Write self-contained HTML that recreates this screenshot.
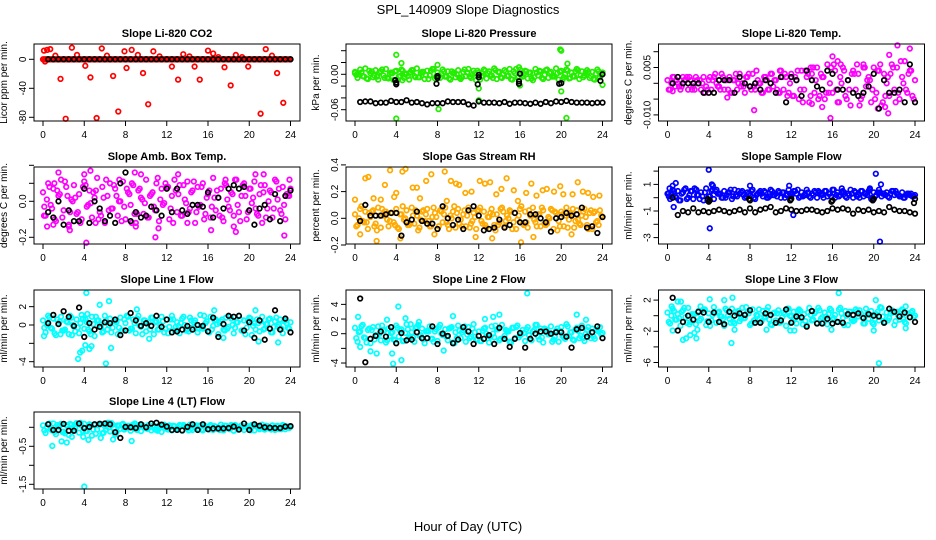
<!DOCTYPE html>
<html><head><meta charset="utf-8"><style>
html,body{margin:0;padding:0;background:#fff;}
svg{display:block;font-family:"Liberation Sans",Arial,sans-serif;}
</style></head><body>
<svg id="chart" width="936" height="540" viewBox="0 0 936 540">
<text x="468" y="14" text-anchor="middle" font-size="13">SPL_140909  Slope Diagnostics</text>
<text x="468" y="531" text-anchor="middle" font-size="13">Hour of Day (UTC)</text>
</svg>
<script>
const H1=[0,0.25,0.5,0.75,1,1.25,1.5,1.75,2,2.25,2.5,2.75,3,3.25,3.5,3.75,4,4.25,4.5,4.75,5,5.25,5.5,5.75,6,6.25,6.5,6.75,7,7.25,7.5,7.75,8,8.25,8.5,8.75,9,9.25,9.5,9.75,10,10.25,10.5,10.75,11,11.25,11.5,11.75,12,12.25,12.5,12.75,13,13.25,13.5,13.75,14,14.25,14.5,14.75,15,15.25,15.5,15.75,16,16.25,16.5,16.75,17,17.25,17.5,17.75,18,18.25,18.5,18.75,19,19.25,19.5,19.75,20,20.25,20.5,20.75,21,21.25,21.5,21.75,22,22.25,22.5,22.75,23,23.25,23.5,23.75,24];
const H2=[0.125,0.625,1.125,1.625,2.125,2.625,3.125,3.625,4.125,4.625,5.125,5.625,6.125,6.625,7.125,7.625,8.125,8.625,9.125,9.625,10.125,10.625,11.125,11.625,12.125,12.625,13.125,13.625,14.125,14.625,15.125,15.625,16.125,16.625,17.125,17.625,18.125,18.625,19.125,19.625,20.125,20.625,21.125,21.625,22.125,22.625,23.125,23.625];
const H3=[0.375,0.875,1.375,1.875,2.375,2.875,3.375,3.875,4.375,4.875,5.375,5.875,6.375,6.875,7.375,7.875,8.375,8.875,9.375,9.875,10.375,10.875,11.375,11.875,12.375,12.875,13.375,13.875,14.375,14.875,15.375,15.875,16.375,16.875,17.375,17.875,18.375,18.875,19.375,19.875,20.375,20.875,21.375,21.875,22.375,22.875,23.375,23.875];
const HB=[0.5,1,1.5,2,2.5,3,3.5,4,4.5,5,5.5,6,6.5,7,7.5,8,8.5,9,9.5,10,10.5,11,11.5,12,12.5,13,13.5,14,14.5,15,15.5,16,16.5,17,17.5,18,18.5,19,19.5,20,20.5,21,21.5,22,22.5,23,23.5,24];
const XTICKS=[0,4,8,12,16,20,24];

// Panel 1: CO2
const co2BandA=[0,0,0,0,0,0,0,0,0,0,0,0,0,0,0,0,0,0,0,0,0,0,0,0,0,0,0,0,0,0,0,0,0,0,0,0,0,0,0,0,0,0,0,0,0,0,0,0,0,0,0,0,0,0,0,0,0,0,0,0,0,0,0,0,0,0,0,0,0,0,0,0,0,0,0,0,0,0,0,0,0,0,0,0,0,0,0,0,0,0,0,0,0,0,0,0,0];
const co2BandB=[0,0,0,0,0,0,0,0,0,0,0,0,0,0,0,0,0,0,0,0,0,0,0,0,0,0,0,0,0,0,0,0,0,0,0,0,0,0,0,0,0,0,0,0,0,0,0,0];
const co2BandC=[0,0,0,0,0,0,0,0,0,0,0,0,0,0,0,0,0,0,0,0,0,0,0,0,0,0,0,0,0,0,0,0,0,0,0,0,0,0,0,0,0,0,0,0,0,0,0,0];
const co2OutH=[0.1,0.2,0.4,0.7,1.2,1.7,2.2,2.8,3.3,4.1,4.6,5.2,5.7,6.2,6.8,7.3,7.9,8.1,8.6,9.2,9.7,10.2,10.7,11.3,12.5,13.1,13.6,14.2,14.7,15.2,16,16.5,17,17.6,18.2,18.7,19.3,19.9,21.1,21.6,22.2,22.7,23.3];
const co2OutV=[12,-3,13,14,5,-27,-82,16,6,-9,-25,-81,15,5,-23,-72,11,-12,13,6,-19,-62,11,4,-10,-28,7,4,-10,-28,12,8,3,-11,-36,6,3,-10,-75,14,5,-19,-60];
const co2Blk=[0,0,0,0,0,0,0,0,0,0,0,0,0,0,0,0,0,0,0,0,0,0,0,0,0,0,0,0,0,0,0,0,0,0,0,0,0,0,0,0,0,0,0,0,0,0,0,0];

// Panel 2: Pressure
const prBandA=[0.004,-0.006,0.008,-0.003,0.010,-0.008,0.002,-0.005,0.007,-0.009,0.005,-0.002,0.009,-0.007,0.003,-0.010,0.006,-0.004,0.008,-0.006,0.001,-0.009,0.007,-0.003,0.010,-0.005,0.004,-0.008,0.006,-0.002,0.009,-0.007,0.003,-0.006,0.008,-0.004,0.005,-0.009,0.002,-0.005,0.007,-0.008,0.004,-0.003,0.009,-0.006,0.006,-0.010,0.003,-0.004,0.008,-0.007,0.005,-0.002,0.010,-0.008,0.004,-0.006,0.007,-0.003,0.009,-0.009,0.002,-0.005,0.008,-0.004,0.006,-0.007,0.003,-0.010,0.009,-0.002,0.005,-0.008,0.007,-0.006,0.004,-0.003,0.010,-0.009,0.006,-0.005,0.008,-0.007,0.003,-0.004,0.009,-0.008,0.005,-0.002,0.007,-0.006,0.004,-0.009,0.008,-0.005,0.003];
const prBandB=[-0.001,0.003,-0.007,0.005,-0.004,0.008,-0.006,0.002,-0.009,0.006,-0.003,0.007,-0.005,0.004,-0.008,0.009,-0.002,0.005,-0.007,0.003,-0.006,0.008,-0.004,0.002,-0.009,0.006,-0.003,0.007,-0.005,0.004,-0.008,0.009,-0.002,0.005,-0.007,0.003,-0.006,0.008,-0.004,0.002,-0.009,0.006,-0.003,0.007,-0.005,0.004,-0.008,0.005];
const prBandC=[0.000,-0.004,0.006,-0.002,0.003,-0.006,0.001,0.005,-0.003,0.000,0.004,-0.005,0.002,-0.001,0.006,-0.004,0.001,-0.003,0.005,0.000,-0.005,0.003,-0.001,0.006,-0.003,0.002,-0.006,0.004,0.000,-0.002,0.005,-0.004,0.001,0.003,-0.005,0.006,-0.001,0.002,-0.004,0.004,0.000,-0.006,0.005,-0.002,0.003,-0.003,0.001,-0.001];
const prOutH=[4,4.5,4.6,8,8.1,12,12,15.9,16,19.9,20,20.6,20,20.5,4,24,0];
const prOutV=[0.033,0.019,-0.010,0.016,-0.059,-0.024,-0.044,0.012,-0.019,0.042,0.040,0.018,-0.029,-0.074,-0.075,-0.018,0.002];
const prBlk=[-0.047,-0.046,-0.046,-0.049,-0.048,-0.048,-0.045,-0.047,-0.047,-0.044,-0.048,-0.047,-0.049,-0.051,-0.049,-0.049,-0.049,-0.046,-0.047,-0.047,-0.047,-0.051,-0.053,-0.046,-0.048,-0.048,-0.048,-0.049,-0.047,-0.050,-0.048,-0.048,-0.049,-0.050,-0.048,-0.050,-0.047,-0.049,-0.046,-0.047,-0.045,-0.047,-0.048,-0.048,-0.048,-0.049,-0.048,-0.048];
const prBlkXH=[3.9,4,4,8,8,7.9,12,12,11.9,16,15.9,15.9,20,19.8,24,23.8];
const prBlkXV=[-0.010,-0.014,-0.017,-0.003,-0.006,-0.016,-0.001,-0.005,-0.017,0.001,-0.012,-0.016,-0.015,-0.016,0.000,-0.011];

// Panel 3: Li-820 Temp
const tpBandA=[0.001,-0.002,0.002,-0.001,0.000,-0.002,0.002,0.001,-0.002,0.001,-0.001,0.002,0.000,-0.002,0.002,-0.001,0.001,-0.002,0.002,0.000,-0.001,0.003,-0.002,0.001,0.002,-0.003,0.001,-0.002,0.003,0.000,-0.003,0.002,-0.001,0.003,-0.002,0.001,0.000,-0.003,0.002,-0.002,0.003,-0.001,0.001,-0.003,0.004,-0.002,0.002,-0.003,0.003,-0.004,0.001,-0.005,0.004,-0.002,0.002,-0.006,0.003,-0.003,0.005,-0.004,0.002,-0.005,0.006,0.000,-0.003,0.004,-0.006,0.002,0.005,-0.004,0.001,-0.007,0.004,-0.002,0.003,-0.005,0.006,-0.001,0.002,-0.006,0.005,-0.003,0.004,-0.007,0.003,0.000,-0.004,0.006,-0.002,0.005,-0.005,0.002,0.007,-0.003,0.004,-0.004,0.001];
const tpBandB=[-0.002,0.002,-0.001,0.001,0.002,-0.002,0.001,-0.003,0.002,0.003,-0.002,0.001,-0.003,0.003,-0.001,0.002,-0.002,0.004,-0.003,0.001,0.003,-0.002,0.002,-0.004,-0.004,0.004,-0.006,0.003,0.005,-0.005,0.002,-0.003,0.006,-0.006,0.004,-0.002,0.003,-0.007,0.005,0.001,-0.005,0.006,-0.004,0.003,-0.006,0.007,-0.002,0.004];
const tpBandC=[0.000,0.001,-0.001,0.002,-0.002,0.001,0.000,-0.002,0.001,-0.001,0.002,-0.002,0.001,0.000,-0.001,0.003,-0.001,0.000,0.002,-0.002,0.001,-0.003,0.003,0.000,0.002,-0.002,0.004,-0.004,0.001,0.003,-0.003,0.005,-0.002,0.000,-0.005,0.003,0.006,-0.004,0.001,-0.002,0.004,-0.006,0.002,0.005,-0.003,0.000,0.003,-0.005];
const tpOutH=[8.4,15.8,16,16.5,16.8,22.3,23.5,21.5,20.4,21.4,10.9,13.9,19,21.1,14,15,5.8,0.5];
const tpOutV=[-0.0085,-0.011,0.0085,0.007,0.006,0.012,0.011,0.009,-0.008,-0.0095,0.004,0.005,0.005,-0.0075,-0.0065,-0.0075,-0.0045,-0.0025];
const tpBlk=[0.000,0.002,0.000,0.000,0.000,0.000,-0.003,-0.003,-0.003,0.001,0.001,0.001,-0.003,0.002,0.000,-0.001,0.000,-0.002,0.001,0.000,-0.003,0.002,-0.006,0.002,0.001,-0.004,0.004,0.001,-0.001,-0.002,0.004,0.003,-0.002,-0.002,0.001,-0.003,-0.004,-0.003,-0.001,0.003,-0.008,0.001,-0.003,-0.003,-0.002,-0.006,0.006,-0.006];

// Panel 4: Amb Box Temp
const abBandA=[0.05,-0.08,0.10,-0.02,0.07,-0.11,0.03,0.12,-0.05,0.08,-0.13,0.01,0.09,-0.07,0.04,-0.10,0.11,-0.03,0.06,-0.09,0.02,0.13,-0.06,0.08,-0.12,0.03,0.10,-0.04,0.07,-0.08,0.00,0.11,-0.10,0.05,-0.02,0.09,-0.12,0.06,0.02,-0.07,0.12,-0.09,0.04,-0.03,0.10,-0.11,0.07,-0.01,0.08,-0.10,0.03,0.12,-0.06,0.09,-0.08,0.01,0.11,-0.04,0.06,-0.12,0.08,-0.02,0.10,-0.07,0.04,-0.09,0.13,-0.05,0.02,0.07,-0.11,0.09,-0.03,0.05,-0.08,0.12,-0.06,0.03,0.10,-0.10,0.07,-0.01,0.11,-0.07,0.04,-0.12,0.09,-0.04,0.06,-0.09,0.12,0.01,-0.05,0.08,-0.10,0.03,0.07];
const abBandB=[-0.03,0.08,-0.10,0.04,0.11,-0.06,0.02,-0.12,0.09,-0.01,0.06,-0.08,0.12,-0.04,0.03,-0.11,0.07,0.10,-0.07,0.01,-0.09,0.05,0.13,-0.02,0.08,-0.12,0.04,0.09,-0.06,0.11,-0.03,-0.10,0.06,0.02,-0.08,0.10,-0.05,0.12,-0.11,0.03,0.07,-0.04,0.09,-0.09,0.05,0.11,-0.07,0.04];
const abBandC=[0.01,-0.04,0.06,-0.09,0.03,0.00,-0.06,0.08,-0.02,0.05,-0.10,0.02,-0.05,0.09,0.00,-0.03,0.04,-0.07,0.07,-0.01,0.03,-0.05,0.01,0.10,-0.04,0.06,-0.08,-0.01,0.05,-0.06,0.08,0.02,-0.03,0.06,-0.09,0.01,0.04,-0.02,0.09,-0.06,0.02,-0.08,0.05,0.00,-0.04,0.07,-0.02,0.03];
const abOutH=[0.1,1,1.1,1.5,2.6,2.5,4.2,4.6,5.1,7.4,8.6,8.9,9.0,9.5,10.9,11.2,13.1,14.0,16.3,17.7,18.5,18.7,20.6,21.4,23.4,23.9,4.0,0.4];
const abOutV=[-0.08,-0.13,0.10,0.16,-0.16,-0.14,-0.23,0.17,-0.12,0.12,-0.12,0.16,-0.14,0.15,-0.20,-0.15,0.15,-0.12,-0.16,0.12,-0.14,-0.17,0.15,0.15,-0.19,0.12,0.15,-0.14];
const abBlk=[-0.06,-0.09,0.00,-0.13,-0.05,-0.11,-0.11,0.07,-0.12,0.00,-0.04,-0.11,-0.08,-0.12,0.10,0.16,-0.11,-0.06,-0.09,-0.08,-0.03,-0.05,-0.08,0.07,-0.06,0.07,-0.05,-0.07,-0.02,-0.02,-0.03,0.05,-0.09,0.02,-0.04,0.07,0.09,0.07,0.08,-0.05,-0.13,-0.04,-0.02,-0.10,0.04,-0.11,0.03,0.06];

// Panel 5: Gas Stream RH
const rhBandA=[0.03,-0.05,0.07,-0.02,0.05,-0.08,0.01,0.06,-0.04,0.08,-0.07,0.02,0.05,-0.06,0.04,-0.03,0.07,-0.08,0.03,-0.01,0.06,-0.05,0.08,-0.04,0.02,-0.07,0.05,-0.02,0.07,-0.06,0.01,0.04,-0.08,0.06,-0.03,0.08,-0.05,0.02,0.05,-0.07,0.07,-0.01,0.03,-0.06,0.08,-0.04,0.04,-0.08,0.06,-0.02,0.05,-0.07,0.01,0.07,-0.05,0.03,-0.03,0.08,-0.06,0.02,0.06,-0.08,0.04,-0.01,0.07,-0.04,0.05,-0.07,0.02,0.08,-0.03,0.03,-0.06,0.06,-0.05,0.01,0.07,-0.08,0.04,-0.02,0.05,-0.06,0.08,-0.01,0.03,-0.07,0.06,-0.04,0.02,0.07,-0.05,0.04,-0.08,0.05,-0.02,0.06,0.01];
const rhBandB=[-0.06,0.09,-0.03,0.05,-0.09,0.07,-0.01,0.04,-0.07,0.09,-0.05,0.02,-0.09,0.06,-0.02,0.08,-0.06,0.03,-0.08,0.09,-0.04,0.06,-0.07,0.01,0.08,-0.05,0.04,-0.09,0.07,-0.02,0.05,-0.08,0.09,-0.03,0.02,-0.06,0.08,-0.04,0.06,-0.09,0.03,-0.07,0.07,-0.01,0.05,-0.08,0.04,-0.05];
const rhBandC=[0.00,-0.03,0.04,-0.06,0.02,0.05,-0.02,-0.05,0.03,0.00,-0.04,0.06,-0.01,0.03,-0.06,0.01,0.05,-0.03,0.00,0.04,-0.06,0.02,-0.02,0.06,-0.04,0.01,0.03,-0.05,0.05,0.00,-0.03,0.02,-0.05,0.06,-0.01,0.03,-0.04,0.00,0.05,-0.06,0.02,0.04,-0.02,-0.05,0.01,0.06,-0.03,0.02];
const rhOutH=[0,0.5,1,1.3,1.8,2.1,2.5,2.9,3.4,3.8,4.0,4.6,4.9,4.4,5.6,6.0,6.3,6.9,7.4,7.7,8.7,8.9,9.3,9.8,10.1,10.7,11.3,11.7,12.1,12.6,13.1,13.3,13.7,14.2,14.7,15.4,15.8,16.1,16.6,17.1,17.3,17.6,18.2,18.6,19.3,19.9,20.2,21.1,21.6,22.1,22.6,23.1,23.7,21.0];
const rhOutV=[0.14,-0.12,0.30,0.31,0.15,-0.17,0.14,0.25,0.36,0.16,0.19,0.35,0.37,-0.15,0.23,0.23,0.15,0.28,0.33,-0.12,0.35,0.13,0.28,0.26,0.25,0.19,0.20,-0.14,0.28,0.26,0.27,-0.15,0.18,0.22,0.30,0.21,0.13,-0.18,0.19,0.26,-0.14,0.17,0.21,0.22,0.20,0.24,0.18,0.18,0.27,0.20,0.19,0.16,0.17,-0.12];
const rhBlk=[-0.02,0.10,0.02,0.02,0.02,0.03,0.04,0.04,-0.13,-0.03,-0.01,0.05,-0.02,-0.04,-0.04,-0.08,0.09,0.00,-0.05,-0.01,-0.08,0.06,0.09,0.02,-0.09,-0.08,-0.07,-0.01,-0.07,-0.05,0.04,-0.03,-0.03,0.03,0.03,0.00,-0.03,-0.10,0.00,0.01,0.04,0.02,0.03,0.08,-0.07,-0.06,-0.11,0.01];

// Panel 6: Sample Flow
const sfBandA=[0.3,-0.1,0.6,0.1,0.5,-0.2,0.4,0.7,0.0,0.5,-0.1,0.6,0.2,0.4,-0.2,0.7,0.1,0.5,-0.1,0.6,0.3,0.0,0.5,0.2,0.4,-0.1,0.6,0.1,0.3,0.5,0.0,0.4,0.2,0.6,-0.1,0.3,0.5,0.1,0.4,0.0,0.6,0.2,0.3,0.5,0.0,0.4,0.2,0.6,0.1,0.5,0.3,0.0,0.4,0.2,0.6,0.1,0.3,0.5,0.0,0.4,0.2,0.5,0.1,0.3,0.6,0.0,0.4,0.2,0.5,0.1,0.3,0.6,0.0,0.4,0.2,0.5,0.1,0.3,0.5,-0.1,0.4,0.2,0.6,0.1,0.3,0.4,0.0,0.5,0.2,0.3,0.1,0.4,0.0,0.3,0.2,0.1,0.2];
const sfBandB=[0.1,0.5,-0.2,0.6,0.2,0.7,-0.1,0.4,0.1,0.5,0.3,0.0,0.6,0.2,0.4,0.1,0.5,0.2,0.3,0.0,0.5,0.1,0.4,0.2,0.3,0.6,0.1,0.4,0.2,0.5,0.0,0.3,0.6,0.1,0.4,0.2,0.5,0.0,0.3,0.7,0.1,0.4,0.2,0.3,0.5,0.1,0.2,0.3];
const sfBandC=[0.4,0.0,0.3,-0.1,0.5,0.2,0.1,-0.2,0.6,0.3,0.0,0.4,0.1,0.5,0.2,0.3,0.0,0.4,0.5,0.1,0.2,0.4,0.0,0.3,0.5,0.1,0.2,0.0,0.4,0.3,0.5,0.1,0.2,0.4,0.0,0.3,0.1,0.5,0.2,0.0,0.4,0.3,0.1,0.5,0.2,0.0,0.3,0.1];
const sfOutH=[0.2,0.5,0.6,0.8,2.8,4.0,4.1,4.4,4.3,8.0,11.8,12.2,16.9,19.6,20.2,20.7,20.6,0.1];
const sfOutV=[0.7,0.9,-0.7,1.1,0.6,2.1,-2.3,0.9,1.0,0.9,0.9,-1.3,0.7,0.6,1.8,1.0,-3.3,0.3];
const sfBlk=[0.0,-1.3,-1.0,-1.1,-0.8,-1.1,-1.0,-1.1,-1.0,-0.9,-1.0,-1.1,-1.0,-0.9,-1.1,-0.8,-1.1,-0.9,-0.8,-0.7,-1.1,-1.0,-0.8,-0.9,-1.0,-1.0,-0.9,-0.9,-1.0,-1.1,-1.0,-0.8,-0.9,-0.8,-0.9,-1.2,-0.9,-1.0,-0.9,-1.1,-1.0,-1.1,-0.7,-0.9,-1.0,-1.0,-1.1,-1.2];
const sfBlkXH=[3.9,4,4.1,8,7.9,12,11.9,16,15.9,20,19.9,24,23.9];
const sfBlkXV=[-0.1,-0.3,-0.2,-0.2,-0.1,-0.1,-0.2,-0.2,-0.3,-0.1,-0.2,-0.1,-0.4];

// Panel 7: Line 1 Flow
const l1BandA=[0.5,-0.8,1.0,-0.3,0.7,-1.1,0.2,0.9,-0.6,0.4,-1.0,0.8,-0.2,0.6,-0.9,1.1,-0.4,0.3,-0.7,0.9,-1.2,0.5,0.1,-0.8,1.0,-0.5,0.7,-0.3,0.4,-1.0,0.8,-0.6,0.2,0.9,-0.4,0.6,-0.9,1.0,-0.2,0.5,-0.7,0.3,0.8,-1.0,0.4,-0.5,0.9,-0.8,0.6,-0.2,1.0,-0.6,0.3,-0.9,0.7,0.0,-0.5,0.8,-0.3,0.5,-0.8,1.1,-0.4,0.2,-0.7,0.9,-0.1,0.6,-1.0,0.4,-0.5,0.8,-0.2,0.7,-0.9,0.3,1.0,-0.6,0.5,-0.3,0.8,-1.1,0.2,0.6,-0.7,0.9,-0.4,0.1,0.7,-0.8,0.4,-0.2,0.6,-0.9,0.5,-0.3,0.3];
const l1BandB=[-0.3,0.8,-0.9,0.4,-0.5,1.0,-0.7,0.2,0.6,-1.0,0.9,-0.2,0.5,-0.8,0.3,-0.6,1.0,-0.4,0.7,-1.0,0.1,0.8,-0.5,0.4,-0.9,0.6,-0.1,0.9,-0.7,0.3,-0.4,1.0,-0.8,0.5,0.2,-0.6,0.9,-0.3,0.6,-1.0,0.7,-0.5,0.4,0.1,-0.8,0.8,-0.4,0.2];
const l1BandC=[0.0,-0.4,0.6,-0.6,0.3,0.0,-0.3,0.7,-0.5,0.1,0.5,-0.7,0.0,0.4,-0.3,0.6,-0.6,0.2,-0.1,0.5,-0.5,0.3,0.0,-0.4,0.6,-0.2,0.2,-0.6,0.5,0.0,-0.3,0.4,-0.5,0.1,0.6,-0.4,0.0,0.3,-0.6,0.5,-0.1,0.2,-0.5,0.6,-0.2,0.0,0.4,-0.4];
const l1OutH=[0.1,1.7,2.8,3.4,3.6,3.8,4.1,4.2,4.3,4.5,4.7,5.5,6.1,6.4,6.6,9.1,10.3,16.6,20.6,20.9,22.8,17.5];
const l1OutV=[-1.2,-1.0,-1.1,-3.7,-3.0,-2.8,-2.2,3.5,1.2,-2.6,-2.3,2.2,-4.2,2.6,-2.5,1.7,-1.5,1.6,1.6,-1.8,-1.9,-1.4];
const l1Blk=[0.2,1.1,0.1,1.5,0.9,-0.1,1.9,-1.3,0.2,-0.5,-0.2,0.3,0.2,0.6,-1.1,-0.6,1.3,0.5,-0.1,0.2,-0.1,1.0,-0.2,0.6,-0.8,-0.7,-0.5,-0.1,-0.5,0.0,-0.1,-0.7,0.8,-1.3,0.1,1.0,0.9,1.0,-0.6,0.3,-1.4,0.5,-1.6,-0.4,1.6,-0.5,0.7,-0.8];

// Panel 8: Line 2 Flow
const l2BandA=[0.8,-1.1,0.3,1.2,-0.6,0.5,-1.3,0.9,-0.2,1.0,-0.9,0.4,-1.2,0.7,0.1,-0.8,1.1,-0.4,0.6,-1.0,1.3,-0.5,0.2,-1.1,0.9,-0.3,0.7,-1.3,0.4,1.0,-0.7,0.3,-1.0,1.2,-0.2,0.6,-0.9,0.8,-1.2,0.2,1.1,-0.6,0.5,-1.1,0.9,-0.4,1.3,-0.8,0.3,-1.0,0.7,0.0,-1.2,1.0,-0.5,0.6,-0.9,1.2,-0.3,0.4,-1.1,0.8,-0.6,1.1,-0.2,0.5,-1.0,0.9,-0.7,0.3,1.2,-0.4,0.7,-1.2,0.6,-0.1,1.0,-0.8,0.4,-1.1,0.9,-0.5,1.3,-0.3,0.2,-0.9,0.8,-0.6,1.1,-1.0,0.5,-0.2,0.7,-0.7,0.4,0.9,0.1];
const l2BandB=[-0.6,1.0,-1.2,0.5,-0.3,1.1,-0.9,0.2,0.8,-1.0,0.6,-0.5,1.2,-0.8,0.3,-1.1,0.9,-0.2,0.7,-1.3,0.4,1.0,-0.6,0.2,-1.0,0.8,-0.4,1.1,-0.7,0.5,-1.2,0.9,-0.1,0.6,-0.9,1.2,-0.5,0.3,-1.1,0.7,-0.3,1.0,-0.8,0.4,-0.6,0.9,-0.4,0.3];
const l2BandC=[0.2,-0.5,0.7,-0.8,0.0,0.5,-0.3,-0.9,0.4,0.1,-0.6,0.8,-0.2,0.3,-0.7,0.6,0.0,-0.4,0.9,-0.6,0.2,-0.1,0.7,-0.8,0.4,-0.3,0.0,0.6,-0.7,0.3,0.8,-0.5,0.1,-0.2,0.5,-0.8,0.7,0.0,-0.4,0.4,-0.7,0.2,0.6,-0.3,0.0,-0.6,0.5,-0.1];
const l2OutH=[0.3,0.5,1.5,2.1,3.1,3.6,3.7,4.2,4.5,4.9,6.2,8.6,9.5,12.6,13.4,14.0,16.7,21.5,22.4,5.4];
const l2OutV=[2.3,-1.8,-2.4,-2.7,1.9,-2.7,-4.1,3.7,-3.6,2.1,1.6,-2.3,2.4,2.0,2.3,2.6,5.5,2.6,1.9,1.3];
const l2Blk=[4.8,-3.9,-0.7,-0.3,0.3,-0.4,0.9,-1.3,0.1,-0.9,-0.8,0.2,-0.6,-0.6,1.0,-1.4,0.0,-0.3,-1.3,-0.8,0.9,0.3,-1.4,-0.3,-0.7,-0.2,-1.4,0.8,-0.7,-1.8,-0.7,0.1,-1.9,-0.7,0.0,0.3,0.3,0.0,0.2,0.2,-0.4,-1.9,0.6,0.8,-0.4,0.2,1.0,-0.6];

// Panel 9: Line 3 Flow
const l3BandA=[0.4,-1.0,0.9,-0.5,0.2,-1.3,0.7,-0.2,1.0,-0.8,0.1,-1.1,0.6,-0.4,0.8,-1.2,0.3,-0.6,1.1,-0.9,0.5,-0.1,-1.3,0.7,-0.4,0.9,-1.0,0.2,-0.7,1.0,-0.3,0.5,-1.2,0.8,-0.5,0.0,-0.9,0.6,-0.2,1.1,-1.1,0.3,-0.6,0.7,-0.8,0.4,-1.3,0.9,-0.1,0.5,-1.0,0.8,-0.4,0.2,-1.2,1.0,-0.6,0.3,-0.9,0.7,-0.2,0.4,-1.1,0.9,-0.5,0.1,-0.8,1.0,-0.3,0.6,-1.2,0.5,-0.7,0.8,-0.1,0.3,-1.0,0.9,-0.4,0.6,-1.1,0.2,-0.6,1.0,-0.9,0.4,-0.3,0.7,-1.2,0.5,-0.5,0.8,-0.8,0.3,-0.2,0.6,0.0];
const l3BandB=[-0.8,0.6,-0.3,1.0,-1.1,0.2,-0.6,0.8,-1.3,0.4,-0.1,0.9,-0.9,0.5,-0.4,1.1,-1.0,0.1,-0.7,0.7,-1.2,0.3,-0.2,0.9,-0.8,0.6,-1.1,0.4,-0.5,1.0,-0.9,0.2,-0.3,0.8,-1.2,0.5,-0.6,0.7,-1.0,0.1,-0.4,1.1,-0.8,0.3,-0.7,0.6,-1.0,0.4];
const l3BandC=[0.0,-0.5,0.5,-0.9,0.2,-0.2,0.7,-0.7,0.1,0.4,-0.4,0.0,-0.8,0.6,-0.3,0.3,-0.6,0.8,-0.1,-0.5,0.4,-0.9,0.2,0.0,-0.3,0.6,-0.7,0.1,0.5,-0.4,-0.1,0.7,-0.8,0.3,0.0,-0.5,0.6,-0.2,0.2,-0.9,0.5,-0.1,-0.6,0.4,0.0,-0.4,0.3,-0.2];
const l3OutH=[0.4,0.5,1.0,1.3,1.5,1.8,2.2,2.6,2.8,2.9,3.2,4.1,5.5,6.2,6.3,6.5,9.6,11.9,12.3,15.9,16.6,20,20.2,20.5,23.1,23.1];
const l3OutV=[1.2,-1.9,1.8,1.8,-3.1,-2.9,-2.5,-2.2,-2.9,-1.8,1.2,2.1,2.0,-3.5,2.3,-1.8,-1.8,-1.9,-1.9,-1.8,2.9,-1.9,2.0,-6.1,1.2,-1.6];
const l3Blk=[2.3,-1.9,-0.8,0.0,-0.5,0.5,0.4,-0.8,0.4,-0.8,-1.1,0.5,0.0,0.3,0.1,0.7,-0.9,-0.9,0.3,0.1,-0.9,-0.6,0.8,-0.9,-0.1,-0.2,-1.4,0.6,-1.0,-1.0,-0.4,-1.0,-0.8,-0.9,0.2,0.1,0.3,-0.3,0.2,0.0,-0.1,-0.9,0.9,0.5,-0.1,0.4,-0.2,-0.8];

// Panel 10: Line 4 (LT) Flow
const l4BandA=[0.05,-0.15,0.08,-0.05,0.10,-0.18,0.02,0.09,-0.12,0.06,-0.20,0.07,-0.08,0.11,-0.14,0.04,0.09,-0.10,0.08,-0.22,0.06,-0.06,0.10,-0.16,0.03,0.12,-0.11,0.07,-0.19,0.05,-0.04,0.09,-0.03,0.04,-0.09,0.07,-0.05,0.06,-0.10,0.03,-0.02,0.06,-0.08,0.05,-0.06,0.04,-0.12,0.07,-0.04,0.05,-0.08,0.03,-0.05,0.06,-0.09,0.02,-0.03,0.07,-0.07,0.04,-0.05,0.05,-0.08,0.03,-0.04,0.06,-0.07,0.02,-0.05,0.07,-0.08,0.04,-0.03,0.06,-0.09,0.03,-0.05,0.05,-0.07,0.04,-0.04,0.06,-0.08,0.02,-0.05,0.07,-0.06,0.03,-0.04,0.05,-0.07,0.04,-0.03,0.06,-0.05,0.02,0.01];
const l4BandB=[-0.08,0.10,-0.12,0.04,-0.16,0.09,-0.03,0.12,-0.10,0.06,-0.17,0.08,-0.06,0.11,-0.13,0.07,-0.02,0.05,-0.07,0.06,-0.04,0.03,-0.09,0.05,-0.06,0.04,-0.03,0.06,-0.08,0.02,-0.05,0.05,-0.06,0.03,-0.07,0.04,-0.05,0.06,-0.04,0.02,-0.08,0.05,-0.03,0.04,-0.06,0.03,-0.05,0.02];
const l4BandC=[0.00,-0.08,0.06,-0.12,0.03,-0.04,0.08,-0.10,0.01,-0.06,0.05,-0.14,0.00,-0.02,0.04,-0.06,0.02,-0.04,0.05,-0.02,0.00,-0.06,0.03,-0.03,0.01,-0.05,0.04,-0.01,-0.03,0.05,-0.06,0.01,0.03,-0.04,0.00,-0.02,0.04,-0.06,0.02,-0.03,0.05,-0.01,-0.04,0.02,0.00,-0.05,0.04,-0.02];
const l4OutH=[0.9,1.8,2.3,6.4,6.8,8.6,8.9,4.0,3.9,4.4,5.6,2.8];
const l4OutV=[-0.49,-0.37,-0.40,0.12,-0.32,-0.36,0.10,-1.56,-0.25,-0.33,-0.28,-0.25];
const l4Blk=[0.08,-0.07,-0.07,0.09,-0.09,-0.09,0.10,-0.02,0.01,0.08,0.09,0.10,0.08,-0.13,-0.28,0.01,0.00,-0.02,0.08,0.00,0.10,0.12,0.07,0.02,-0.07,-0.07,-0.08,0.01,0.08,-0.07,0.08,-0.05,-0.03,-0.03,-0.03,-0.02,0.02,-0.06,0.10,-0.07,0.08,0.04,0.00,-0.01,-0.02,-0.02,0.02,0.03];

const yt1=[0,-40,-80], yl1=["0","-40","-80"];
const yt2=[0.04,0.02,0,-0.02,-0.04,-0.06], yl2=["","","0.00","","","-0.06"];
const yt3=[0.01,0.005,0,-0.005,-0.01], yl3=["","0.005","","","-0.010"];
const yt4=[0.2,0.1,0,-0.1,-0.2], yl4=["","","0.0","","-0.2"];
const yt5=[0.4,0.2,0,-0.2], yl5=["0.4","0.2","0.0","-0.2"];
const yt6=[2,1,0,-1,-2,-3], yl6=["","1","","-1","","-3"];
const yt7=[2,0,-2,-4], yl7=["2","0","","-4"];
const yt8=[4,2,0,-2,-4], yl8=["4","2","0","","-4"];
const yt9=[2,0,-2,-4,-6], yl9=["2","","-2","","-6"];
const yt10=[0,-0.5,-1,-1.5], yl10=["","-0.5","","-1.5"];

const NS="http://www.w3.org/2000/svg";
const svg=document.getElementById('chart');
const COLX=[43,355,667.5], ROWY=[44,167,290,412], BOXH=77, XSPAN=247.5;
function mk(tag,attrs,parent){const e=document.createElementNS(NS,tag);for(const k in attrs)e.setAttribute(k,attrs[k]);(parent||svg).appendChild(e);return e;}

const panels=[
 {key:'co2',title:'Slope Li-820 CO2',ylab:'Licor ppm per min.',col:0,row:0,z:15.3,ppu:0.725,yt:yt1,yl:yl1,color:'#ff0000',
  s:[[H1,co2BandA],[H2,co2BandB],[H3,co2BandC],[co2OutH,co2OutV]],b:[[HB,co2Blk]]},
 {key:'pressure',title:'Slope Li-820 Pressure',ylab:'kPa per min.',col:1,row:0,z:30.3,ppu:590,yt:yt2,yl:yl2,color:'#22ee00',
  s:[[H1,prBandA],[H2,prBandB],[H3,prBandC],[prOutH,prOutV]],b:[[HB,prBlk],[prBlkXH,prBlkXV]]},
 {key:'li820-temp',title:'Slope Li-820 Temp.',ylab:'degrees C per min.',col:2,row:0,z:39.3,ppu:3160,yt:yt3,yl:yl3,color:'#ff00ff',
  s:[[H1,tpBandA],[H2,tpBandB],[H3,tpBandC],[tpOutH,tpOutV]],b:[[HB,tpBlk]]},
 {key:'amb-box-temp',title:'Slope Amb. Box Temp.',ylab:'degrees C per min.',col:0,row:1,z:34.3,ppu:180,yt:yt4,yl:yl4,color:'#ff00ff',
  s:[[H1,abBandA],[H2,abBandB],[H3,abBandC],[abOutH,abOutV]],b:[[HB,abBlk]]},
 {key:'gas-stream-rh',title:'Slope Gas Stream RH',ylab:'percent per min.',col:1,row:1,z:51.3,ppu:133.5,yt:yt5,yl:yl5,color:'#ffaa00',
  s:[[H1,rhBandA],[H2,rhBandB],[H3,rhBandC],[rhOutH,rhOutV]],b:[[HB,rhBlk]]},
 {key:'sample-flow',title:'Slope Sample Flow',ylab:'ml/min per min.',col:2,row:1,z:30.7,ppu:13.3,yt:yt6,yl:yl6,color:'#0000ff',
  s:[[H1,sfBandA],[H2,sfBandB],[H3,sfBandC],[sfOutH,sfOutV]],b:[[HB,sfBlk],[sfBlkXH,sfBlkXV]]},
 {key:'line1-flow',title:'Slope Line 1 Flow',ylab:'ml/min per min.',col:0,row:2,z:35,ppu:9.17,yt:yt7,yl:yl7,color:'#00ffff',
  s:[[H1,l1BandA],[H2,l1BandB],[H3,l1BandC],[l1OutH,l1OutV]],b:[[HB,l1Blk]]},
 {key:'line2-flow',title:'Slope Line 2 Flow',ylab:'ml/min per min.',col:1,row:2,z:43.7,ppu:7.33,yt:yt8,yl:yl8,color:'#00ffff',
  s:[[H1,l2BandA],[H2,l2BandB],[H3,l2BandC],[l2OutH,l2OutV]],b:[[HB,l2Blk]]},
 {key:'line3-flow',title:'Slope Line 3 Flow',ylab:'ml/min per min.',col:2,row:2,z:25.7,ppu:7.8,yt:yt9,yl:yl9,color:'#00ffff',
  s:[[H1,l3BandA],[H2,l3BandB],[H3,l3BandC],[l3OutH,l3OutV]],b:[[HB,l3Blk]]},
 {key:'line4-flow',title:'Slope Line 4 (LT) Flow',ylab:'ml/min per min.',col:0,row:3,z:15.3,ppu:38,yt:yt10,yl:yl10,color:'#00ffff',
  s:[[H1,l4BandA],[H2,l4BandB],[H3,l4BandC],[l4OutH,l4OutV]],b:[[HB,l4Blk]]}
];

panels.forEach(p=>{
  const x0=COLX[p.col], top=ROWY[p.row], left=x0-9, right=x0+257, bottom=top+BOXH;
  const xS=h=>x0+h*XSPAN/24;
  const yS=v=>top+p.z-v*p.ppu;
  const g=mk('g',{});
  
  
  const t=mk('text',{x:(left+right)/2,y:top-7,'text-anchor':'middle','font-size':'11','font-weight':'bold'},g);
  t.textContent=p.title;
  
  
  const cx=left-27, cy=(top+bottom)/2;
  const yl=mk('text',{x:cx,y:cy,transform:`rotate(-90 ${cx} ${cy})`,'text-anchor':'middle','font-size':'10'},g);
  yl.textContent=p.ylab;
  
  
  const pts=mk('g',{fill:'none','stroke-width':'1.7'},g);
  
  
  p.s.forEach(([hs,vs])=>{const n=Math.min(hs.length,vs.length);for(let i=0;i<n;i++){
    const c=mk('circle',{cx:xS(hs[i]),cy:yS(vs[i]),r:2.3,stroke:p.color},pts);
    
    }});
  p.b.forEach(([hs,vs])=>{const n=Math.min(hs.length,vs.length);for(let i=0;i<n;i++){
    const c=mk('circle',{cx:xS(hs[i]),cy:yS(vs[i]),r:2.3,stroke:'#000'},pts);
    
    }});
  const box=mk('rect',{x:left,y:top,width:right-left,height:BOXH,fill:'none',stroke:'#000','stroke-width':'1'},g);
  
  
  XTICKS.forEach(h=>{
    mk('line',{x1:xS(h),x2:xS(h),y1:bottom,y2:bottom+5,stroke:'#000'},g);
    const tl=mk('text',{x:xS(h),y:bottom+17,'text-anchor':'middle','font-size':'10'},g);
    tl.textContent=String(h);
    
    
  });
  p.yt.forEach((v,i)=>{
    const y=yS(v);
    mk('line',{x1:left-5,x2:left,y1:y,y2:y,stroke:'#000'},g);
    if(p.yl[i]){const tx=left-8;
      const tl=mk('text',{x:tx,y:y,transform:`rotate(-90 ${tx} ${y})`,'text-anchor':'middle','font-size':'10'},g);
      tl.textContent=p.yl[i];
      
      }
  });
});
</script>
</body></html>
